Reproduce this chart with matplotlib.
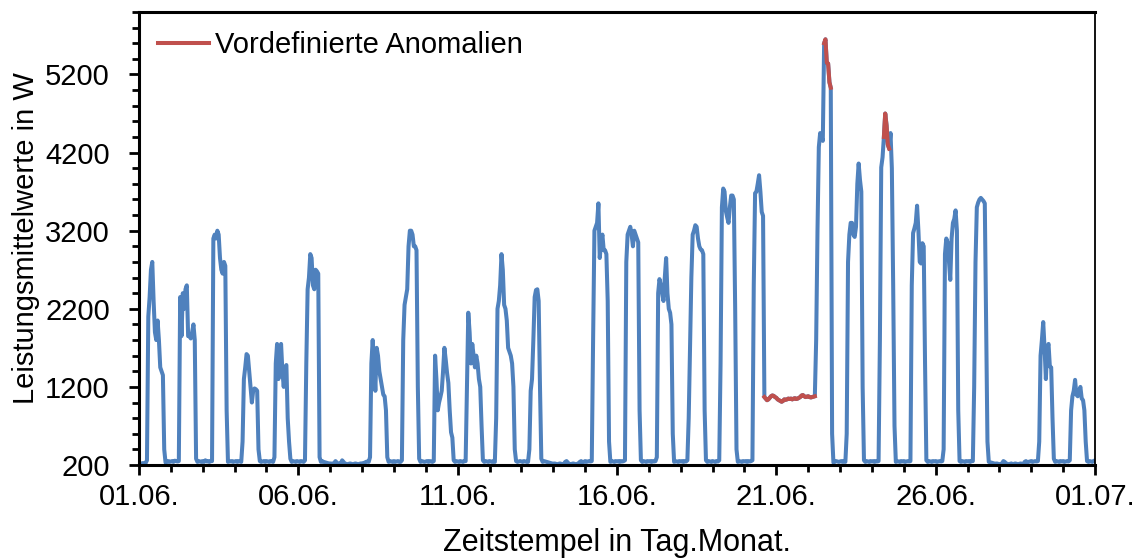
import numpy as np
import matplotlib.pyplot as plt
from matplotlib.ticker import MultipleLocator, FixedLocator

# Stundenmittelwerte je Tag (0..23 Uhr), Juni
tag_01 = [220, 215, 220, 225, 220, 225, 260, 2100, 2350, 2700, 2800, 2300, 1900, 1800, 2050, 1800, 1450, 1400, 1350, 400, 230, 240, 250, 240]
tag_02 = [245, 250, 240, 255, 250, 245, 250, 2350, 1850, 2400, 2200, 2450, 2500, 1850, 1850, 1820, 1900, 2000, 1800, 280, 240, 250, 245, 240]
tag_03 = [250, 240, 260, 245, 250, 240, 250, 250, 3100, 3150, 3100, 3200, 3150, 2850, 2700, 2650, 2800, 2750, 900, 240, 250, 245, 250, 240]
tag_04 = [245, 250, 240, 250, 245, 240, 500, 1300, 1450, 1620, 1600, 1400, 1200, 1000, 1150, 1180, 1170, 1150, 400, 250, 240, 245, 250, 240]
tag_05 = [250, 245, 240, 250, 245, 240, 300, 1500, 1750, 1300, 1600, 1750, 1400, 1200, 1450, 1480, 800, 500, 280, 240, 250, 245, 240, 250]
tag_06 = [245, 240, 250, 245, 240, 260, 1500, 2450, 2600, 2900, 2850, 2500, 2450, 2700, 2680, 2650, 300, 240, 250, 240, 235, 230, 225, 220]
tag_07 = [220, 215, 220, 225, 250, 230, 220, 215, 220, 260, 240, 220, 215, 210, 215, 220, 215, 210, 215, 220, 215, 210, 215, 220]
tag_08 = [220, 225, 230, 240, 245, 240, 300, 1500, 1800, 1500, 1150, 1700, 1600, 1400, 1300, 1200, 1100, 1080, 900, 300, 240, 250, 245, 240]
tag_09 = [250, 240, 245, 250, 240, 240, 260, 1800, 2250, 2350, 2450, 3000, 3200, 3200, 3150, 3000, 3000, 2950, 1200, 280, 240, 250, 245, 240]
tag_10 = [245, 250, 240, 250, 245, 240, 250, 1600, 1300, 900, 1000, 1070, 1150, 1400, 1700, 1550, 1380, 1250, 900, 620, 550, 260, 240, 250]
tag_11 = [245, 240, 250, 245, 240, 250, 250, 1200, 2150, 1900, 1500, 1750, 1600, 1450, 1600, 1500, 1300, 1200, 700, 260, 240, 250, 245, 240]
tag_12 = [250, 245, 240, 250, 240, 800, 2200, 2300, 2500, 2900, 2700, 2250, 2200, 2050, 1700, 1650, 1600, 1500, 1200, 400, 250, 240, 245, 250]
tag_13 = [245, 240, 250, 245, 240, 240, 400, 1150, 1300, 1800, 2350, 2440, 2450, 2300, 1200, 280, 240, 250, 245, 240, 235, 230, 225, 220]
tag_14 = [215, 220, 215, 210, 215, 220, 215, 210, 215, 240, 250, 230, 215, 210, 215, 220, 215, 210, 215, 220, 240, 250, 235, 240]
tag_15 = [250, 240, 245, 250, 245, 250, 1800, 3200, 3250, 3300, 3550, 2850, 3050, 3150, 2950, 2950, 2900, 2300, 500, 240, 250, 245, 240, 250]
tag_16 = [245, 250, 240, 250, 245, 250, 260, 2800, 3150, 3200, 3250, 3150, 3000, 3200, 3150, 3100, 3050, 900, 260, 240, 250, 245, 240, 250]
tag_17 = [245, 250, 240, 250, 245, 250, 300, 2400, 2580, 2500, 2400, 2300, 2600, 2850, 2400, 2200, 2150, 2000, 600, 240, 250, 245, 240, 250]
tag_18 = [245, 250, 240, 250, 245, 260, 800, 1700, 2600, 3150, 3200, 3270, 3250, 3100, 3000, 2960, 2950, 2900, 900, 260, 240, 250, 245, 240]
tag_19 = [250, 245, 240, 250, 245, 260, 1500, 3500, 3740, 3700, 3450, 3370, 3300, 3500, 3650, 3650, 3600, 2200, 400, 240, 250, 245, 240, 250]
tag_20 = [245, 250, 240, 250, 245, 250, 260, 2500, 3680, 3700, 3800, 3910, 3700, 3440, 3390, 1070, 1050, 1030, 1040, 1060, 1080, 1090, 1085, 1070]
tag_21 = [1060, 1040, 1030, 1020, 1010, 1020, 1040, 1035, 1040, 1050, 1045, 1050, 1040, 1050, 1055, 1045, 1050, 1060, 1070, 1090, 1095, 1080, 1070, 1075]
tag_22 = [1080, 1070, 1065, 1070, 1075, 1080, 1800, 3200, 4270, 4450, 4400, 4350, 5600, 5650, 5350, 5340, 5100, 5030, 600, 230, 240, 250, 245, 240]
tag_23 = [245, 250, 240, 250, 240, 600, 2800, 3150, 3300, 3300, 3150, 3120, 3250, 3800, 4060, 3850, 3700, 1200, 260, 240, 250, 245, 240, 250]
tag_24 = [245, 250, 240, 250, 245, 250, 1800, 4010, 4140, 4400, 4700, 4550, 4300, 4250, 4450, 4000, 2500, 700, 240, 250, 245, 240, 250, 245]
tag_25 = [250, 240, 245, 250, 245, 250, 2500, 3170, 3230, 3300, 3520, 3200, 2800, 2780, 3040, 3000, 1500, 260, 240, 250, 245, 240, 250, 245]
tag_26 = [250, 240, 245, 250, 245, 250, 400, 2900, 3100, 3050, 2800, 2570, 3100, 3300, 3350, 3460, 3200, 900, 250, 240, 250, 245, 240, 250]
tag_27 = [245, 250, 240, 250, 250, 1200, 2800, 3500, 3560, 3600, 3620, 3600, 3580, 3550, 2000, 500, 240, 235, 230, 225, 220, 215, 220, 215]
tag_28 = [210, 215, 220, 250, 240, 220, 215, 210, 215, 220, 210, 215, 220, 215, 210, 215, 220, 215, 210, 240, 250, 235, 240, 245]
tag_29 = [250, 240, 245, 250, 245, 250, 500, 1600, 1800, 2030, 1700, 1300, 1700, 1750, 1460, 1450, 800, 280, 240, 250, 245, 240, 250, 245]
tag_30 = [250, 240, 245, 250, 245, 260, 900, 1080, 1150, 1290, 1100, 1080, 1150, 1200, 1050, 1030, 900, 500, 250, 240, 250, 245, 240, 250]

# vordefinierte Anomalien als Stundenbereiche ab 01.06. 00:00
anomalie_start = [471, 516, 561]
anomalie_ende = [509, 521, 565]

tick_labels = ["01.06.", "06.06.", "11.06.", "16.06.", "21.06.", "26.06.", "01.07."]

tage = [tag_01, tag_02, tag_03, tag_04, tag_05, tag_06, tag_07, tag_08, tag_09, tag_10,
        tag_11, tag_12, tag_13, tag_14, tag_15, tag_16, tag_17, tag_18, tag_19, tag_20,
        tag_21, tag_22, tag_23, tag_24, tag_25, tag_26, tag_27, tag_28, tag_29, tag_30]

werte = np.concatenate([np.array(t, dtype=float) for t in tage])
stunden = np.arange(len(werte))
zeit = stunden / 24.0  # in Tagen ab 01.06.

# Anomalie-Reihe: nur innerhalb der Bereiche, sonst NaN
maske = np.zeros(len(werte), dtype=bool)
for s, e in zip(anomalie_start, anomalie_ende):
    maske |= (stunden >= s) & (stunden <= e)
anomalie = np.where(maske, werte, np.nan)

plt.rcParams['font.family'] = ['Liberation Sans', 'DejaVu Sans']

fig = plt.figure(figsize=(11.47, 5.58), dpi=100)
ax = fig.add_axes([139 / 1147, 1 - 465 / 558, (1095 - 139) / 1147, (465 - 12) / 558])

blau = "#4F81BD"
rot = "#C0504D"

ax.plot(zeit, werte, color=blau, linewidth=2.9, label="_nolegend_", solid_joinstyle="round")
ax.plot(zeit, anomalie, color=rot, linewidth=2.9, label="Vordefinierte Anomalien",
        solid_joinstyle="round")

ax.set_xlim(0, 30)
ax.set_ylim(200, 6000)

ax.xaxis.set_major_locator(FixedLocator([0, 5, 10, 15, 20, 25, 30]))
ax.set_xticklabels(tick_labels)
ax.xaxis.set_minor_locator(MultipleLocator(1))
ax.yaxis.set_major_locator(FixedLocator([200, 1200, 2200, 3200, 4200, 5200]))
ax.yaxis.set_minor_locator(MultipleLocator(200))

ax.tick_params(axis="both", which="major", direction="out", length=7, width=2,
               labelsize=21, color="black")
ax.tick_params(axis="both", which="minor", direction="out", length=5, width=2, color="black")
ax.tick_params(axis="x", which="major", pad=6)
ax.tick_params(axis="y", which="major", pad=14)

for side in ["left", "bottom", "top"]:
    ax.spines[side].set_linewidth(2.2)
ax.spines["right"].set_linewidth(1.3)

ax.set_xlabel("Zeitstempel in Tag.Monat.", fontsize=22, labelpad=12)
ax.set_ylabel("Leistungsmittelwerte in W", fontsize=21, labelpad=4)

ax.legend(loc="upper left", frameon=False, fontsize=21, handlelength=1.75,
          handletextpad=0.2, borderaxespad=0.35, borderpad=0.3)

fig.savefig("out.png", dpi=100)
